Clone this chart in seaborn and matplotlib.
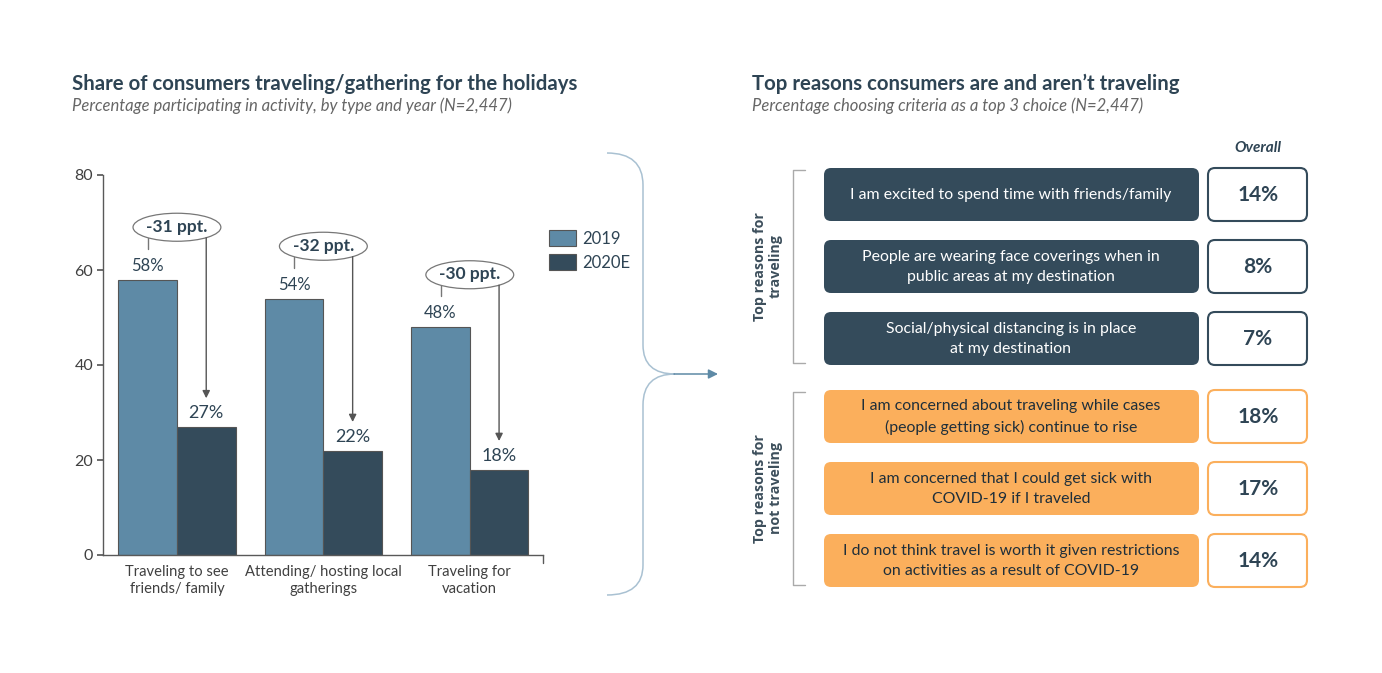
import pandas as pd
import matplotlib.pyplot as plt
import seaborn as sns
from matplotlib.patches import FancyBboxPatch, Ellipse, PathPatch
from matplotlib.path import Path

# 数据
activities = ['Traveling to see\nfriends/ family',
              'Attending/ hosting local\ngatherings',
              'Traveling for\nvacation']
years = ['2019', '2020E']
share_2019 = [58, 54, 48]
share_2020 = [27, 22, 18]

travel_reasons = ['I am excited to spend time with friends/family',
                  'People are wearing face coverings when in\npublic areas at my destination',
                  'Social/physical distancing is in place\nat my destination']
travel_pct = [14, 8, 7]
no_travel_reasons = ['I am concerned about traveling while cases\n(people getting sick) continue to rise',
                     'I am concerned that I could get sick with\nCOVID-19 if I traveled',
                     'I do not think travel is worth it given restrictions\non activities as a result of COVID-19']
no_travel_pct = [18, 17, 14]

# 颜色
c_light = '#5E8AA6'
c_dark = '#344B5B'
c_orange = '#FBAF5C'
c_title = '#2E4454'
c_grey = '#404040'
c_brace = '#A9C1D2'

sns.set_theme(style='white')
plt.rcParams['font.family'] = ['Lato', 'DejaVu Sans']

fig = plt.figure(figsize=(13.82, 6.73), dpi=100)
W, H = 1382, 673

# 背景坐标系（像素坐标）
bg = fig.add_axes([0, 0, 1, 1])
bg.set_xlim(0, W)
bg.set_ylim(H, 0)
bg.axis('off')
bg.set_zorder(0)

# 标题
bg.text(72, 84, 'Share of consumers traveling/gathering for the holidays',
        fontsize=14.7, fontweight='bold', color=c_title, va='center', ha='left')
bg.text(72, 106, 'Percentage participating in activity, by type and year (N=2,447)',
        fontsize=12, style='italic', color='#666666', va='center', ha='left')
bg.text(752, 84, 'Top reasons consumers are and aren\u2019t traveling',
        fontsize=14.7, fontweight='bold', color=c_title, va='center', ha='left')
bg.text(752, 106, 'Percentage choosing criteria as a top 3 choice (N=2,447)',
        fontsize=12, style='italic', color='#666666', va='center', ha='left')

# 中间的大括号和箭头
verts = [(607, 153), (643, 153), (643, 185), (643, 345), (643, 374), (675, 374),
         (643, 374), (643, 405), (643, 565), (643, 595), (607, 595)]
codes = [Path.MOVETO, Path.CURVE3, Path.CURVE3, Path.LINETO, Path.CURVE3, Path.CURVE3,
         Path.CURVE3, Path.CURVE3, Path.LINETO, Path.CURVE3, Path.CURVE3]
bg.add_patch(PathPatch(Path(verts, codes), fill=False, edgecolor=c_brace, lw=1.1))
bg.annotate('', xy=(718, 374), xytext=(674, 374),
            arrowprops=dict(arrowstyle='-|>', color=c_light, lw=1.1, mutation_scale=14,
                            shrinkA=0, shrinkB=0))

# 右侧表格
bg.text(1258, 148, 'Overall', fontsize=11, fontweight='bold', style='italic',
        color=c_title, ha='center', va='center')


def draw_group(reasons, pcts, top, fill, edge, label):
    step = 72
    for i, (txt, p) in enumerate(zip(reasons, pcts)):
        y0 = top + i * step
        bg.add_patch(FancyBboxPatch((824, y0), 375, 53,
                                    boxstyle='round,pad=0,rounding_size=7',
                                    facecolor=fill, edgecolor='none'))
        bg.text(1011, y0 + 27, txt, fontsize=11.4, color='white' if fill == c_dark else '#1F2F3A',
                ha='center', va='center', linespacing=1.5)
        bg.add_patch(FancyBboxPatch((1208, y0), 99, 53,
                                    boxstyle='round,pad=0,rounding_size=7',
                                    facecolor='white', edgecolor=edge, lw=1.5))
        bg.text(1258, y0 + 27, f'{p}%', fontsize=15, fontweight='bold', color=c_title,
                ha='center', va='center')
    y_end = top + 2 * step + 53
    bg.plot([805, 793, 793, 805], [top + 2, top + 2, y_end - 2, y_end - 2],
            color='#AAAAAA', lw=1)
    bg.text(768, (top + y_end) / 2, label, rotation=90, fontsize=10.3, fontweight='bold',
            family='Open Sans', color='#3D4F5C', ha='center', va='center',
            linespacing=1.15)


draw_group(travel_reasons, travel_pct, 168, c_dark, c_dark, 'Top reasons for\ntraveling')
draw_group(no_travel_reasons, no_travel_pct, 390, c_orange, c_orange,
           'Top reasons for\nnot traveling')

# 左侧柱状图
df = pd.DataFrame({
    'activity': activities * 2,
    'year': [years[0]] * 3 + [years[1]] * 3,
    'share': share_2019 + share_2020,
})

ax = fig.add_axes([103 / W, (H - 555) / H, 440 / W, 380 / H])
ax.set_zorder(1)
ax.patch.set_alpha(0)
sns.barplot(data=df, x='activity', y='share', hue='year', palette=[c_light, c_dark],
            width=0.8, edgecolor='#555555', linewidth=0.8, ax=ax, saturation=1)
ax.set_xlim(-0.505, 2.5)
ax.set_ylim(0, 80)
ax.set_yticks([0, 20, 40, 60, 80])
ax.set_xlabel('')
ax.set_ylabel('')
for s in ['top', 'right']:
    ax.spines[s].set_visible(False)
for s in ['left', 'bottom']:
    ax.spines[s].set_color('#595959')
    ax.spines[s].set_linewidth(1)
ax.tick_params(axis='y', which='both', left=True, length=4, color='#595959',
               labelsize=11.5, labelcolor=c_grey, pad=3)
ax.tick_params(axis='x', length=0, labelsize=10.6, labelcolor=c_grey, pad=7)
for t in ax.get_xticklabels():
    t.set_linespacing(1.3)
ax.plot([2.5, 2.5], [0, -1.6], color='#595959', lw=1, clip_on=False)

# 数据标签
ax.bar_label(ax.containers[0], labels=[f'{v}%' for v in share_2019], padding=4,
             fontsize=12, color=c_title)
ax.bar_label(ax.containers[1], labels=[f'{v}%' for v in share_2020], padding=4,
             fontsize=13, color=c_title)

# 变化量注释
for i, (a, b) in enumerate(zip(share_2019, share_2020)):
    ey = a + 11
    ax.add_patch(Ellipse((i, ey), 0.6, 5.9, facecolor='white', edgecolor='#777777',
                         lw=0.9, zorder=3))
    ax.text(i, ey + 0.1, f'-{a - b} ppt.', fontsize=12.5, fontweight='bold', color=c_title,
            ha='center', va='center', zorder=4)
    ax.plot([i - 0.2, i - 0.2], [a + 6.5, ey - 2.2], color='#777777', lw=1)
    ax.annotate('', xy=(i + 0.2, b + 6.0), xytext=(i + 0.2, ey - 2.2),
                arrowprops=dict(arrowstyle='-|>', color='#555555', lw=1,
                                mutation_scale=11, shrinkA=0, shrinkB=0))

# 图例
handles, labels = ax.get_legend_handles_labels()
ax.legend(handles, labels, loc='upper left', bbox_to_anchor=(534 / W, 1 - 215 / H),
          bbox_transform=fig.transFigure, frameon=False, fontsize=12,
          handlelength=1.6, handleheight=1.1, handletextpad=0.4, labelspacing=0.45,
          labelcolor=c_title)

fig.savefig('out.png', dpi=100)
